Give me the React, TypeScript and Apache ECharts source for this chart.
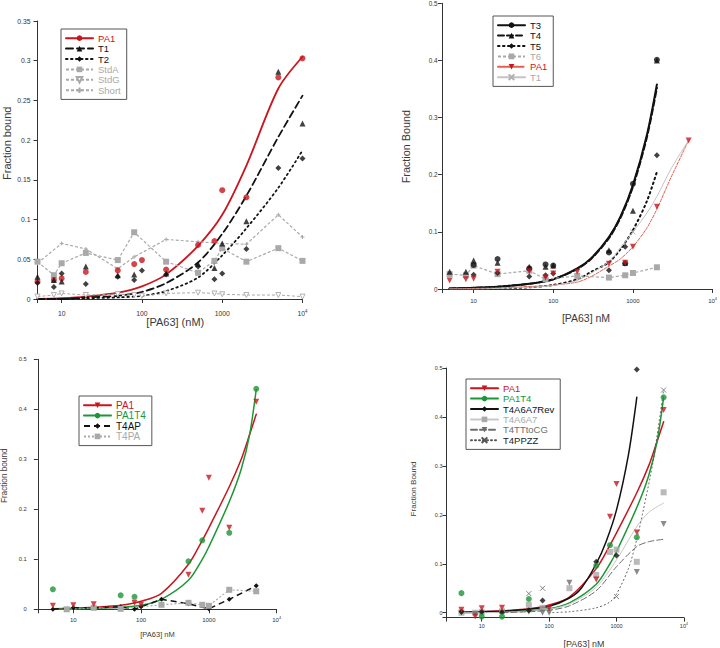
import React, { useEffect, useRef } from "react";
import * as echarts from "echarts";

type V = number | null;

// ---------- Panel 1 (top-left) ----------
const p1Conc = [5, 8, 10, 20, 50, 80, 100, 200, 500, 800, 1000, 2000, 5000, 10000];
const p1PA1: V[] = [0.022, 0.024, 0.026, 0.034, 0.036, 0.044, 0.049, 0.037, 0.068, 0.073, 0.137, 0.128, 0.279, 0.303];
const p1T1: V[] = [0.028, 0.024, 0.022, 0.041, 0.03, 0.031, null, 0.032, 0.044, 0.039, 0.07, 0.098, 0.286, 0.221];
const p1T2: V[] = [0.02, 0.015, 0.032, 0.019, 0.028, 0.024, 0.036, 0.031, 0.041, 0.025, 0.032, 0.063, 0.165, 0.177];
const p1StdA: V[] = [0.047, 0.03, 0.045, 0.058, 0.049, 0.084, null, 0.047, 0.033, 0.048, 0.064, 0.047, 0.064, 0.048];
const p1StdG: V[] = [0.003, 0.005, 0.007, 0.005, 0.006, 0.005, 0.004, 0.007, 0.008, 0.007, 0.006, 0.005, 0.005, 0.003];
const p1Short: V[] = [0.045, null, 0.07, 0.063, 0.038, 0.053, null, 0.075, 0.072, null, 0.07, 0.069, 0.106, 0.078];

const p1FitConc = [5, 10, 20, 50, 100, 200, 500, 1000, 2000, 5000, 10000];
const p1FitPA1: V[] = [0.0, 0.001, 0.003, 0.008, 0.016, 0.031, 0.067, 0.106, 0.168, 0.265, 0.305];
const p1FitT1: V[] = [0.0, 0.0, 0.002, 0.004, 0.009, 0.02, 0.046, 0.082, 0.13, 0.204, 0.256];
const p1FitT2: V[] = [0.0, 0.0, 0.001, 0.002, 0.004, 0.01, 0.027, 0.055, 0.089, 0.14, 0.187];

// ---------- Panel 2 (top-right) ----------
const p2Conc = [5, 8, 10, 20, 50, 80, 100, 200, 500, 800, 1000, 2000, 5000];
const p2T3: V[] = [null, null, 0.042, 0.0525, 0.036, 0.043, 0.041, null, 0.064, 0.045, 0.184, 0.401, null];
const p2T4: V[] = [0.03, 0.03, 0.05, 0.046, 0.039, 0.039, 0.041, null, 0.068, 0.046, 0.137, 0.4, null];
const p2T5: V[] = [null, null, 0.025, 0.028, 0.022, 0.024, 0.027, null, 0.033, 0.074, null, 0.234, null];
const p2T6: V[] = [0.026, 0.024, 0.041, 0.026, 0.032, 0.017, null, 0.023, 0.02, 0.024, 0.028, 0.038, null];
const p2PA1: V[] = [0.015, 0.017, 0.018, 0.03, 0.031, 0.02, 0.027, 0.03, 0.044, 0.046, 0.074, 0.144, 0.26];
const p2T1: V[] = [null, null, null, null, null, null, null, null, null, null, 0.1, null, null];

const p2FitConc = [5, 10, 20, 50, 100, 200, 300, 500, 700, 1000, 1500, 2000];
const p2FitT3: V[] = [0.001, 0.002, 0.004, 0.009, 0.017, 0.036, 0.054, 0.091, 0.127, 0.182, 0.27, 0.358];
const p2FitT4: V[] = [0.001, 0.002, 0.004, 0.009, 0.017, 0.035, 0.053, 0.089, 0.125, 0.179, 0.266, 0.352];
const p2FitT5: V[] = [0.0, 0.0, 0.001, 0.003, 0.007, 0.017, 0.03, 0.047, 0.07, 0.103, 0.154, 0.205];
const p2FitConcB = [5, 10, 20, 50, 100, 200, 300, 500, 700, 1000, 1500, 2000, 3000, 5000];
const p2FitPA1: V[] = [0.0, 0.001, 0.002, 0.004, 0.007, 0.012, 0.022, 0.04, 0.053, 0.074, 0.107, 0.14, 0.195, 0.26];
const p2FitT1: V[] = [0.0, 0.0, 0.001, 0.003, 0.006, 0.015, 0.028, 0.048, 0.072, 0.1, 0.133, 0.162, 0.21, 0.26];

// ---------- Panel 3 (bottom-left) ----------
const p3Conc = [5, 8, 10, 20, 50, 80, 100, 200, 500, 800, 1000, 2000, 5000];
const p3PA1: V[] = [0.007, null, 0.008, 0.01, null, 0.013, 0.009, null, 0.069, 0.197, 0.263, 0.163, 0.415];
const p3PA1T4: V[] = [0.04, null, null, null, 0.028, 0.025, null, null, 0.096, 0.138, null, 0.153, 0.441];
const p3T4AP: V[] = [0.0, null, 0.003, 0.003, 0.005, 0.0, 0.005, 0.02, 0.011, null, 0.001, 0.02, 0.047];
const p3T4PA: V[] = [null, 0.0, null, 0.003, 0.001, null, null, 0.009, 0.013, 0.009, 0.007, 0.039, 0.036];

// shared fits for PA1 / PA1T4 (panels 3 and 4)
const fitConcPA = [5, 10, 20, 50, 100, 200, 500, 800, 1000, 2000, 3000, 4000, 5000];
const fitPA1: V[] = [0.001, 0.002, 0.004, 0.008, 0.016, 0.032, 0.09, 0.138, 0.163, 0.245, 0.3, 0.35, 0.39];
const fitPA1T4: V[] = [0.0, 0.001, 0.002, 0.004, 0.008, 0.02, 0.058, 0.1, 0.125, 0.215, 0.28, 0.35, 0.44];

// ---------- Panel 4 (bottom-right) ----------
const p4Conc = [5, 8, 10, 20, 50, 80, 100, 200, 500, 800, 1000, 2000, 5000];
const p4PA1: V[] = [0.006, -0.008, 0.009, 0.01, null, null, 0.009, null, 0.068, 0.196, 0.263, 0.164, 0.414];
const p4PA1T4: V[] = [0.04, null, -0.008, -0.008, 0.028, null, null, null, 0.096, 0.138, null, 0.154, 0.44];
const p4Rev: V[] = [0.002, null, 0.002, 0.001, 0.005, 0.025, null, null, 0.104, null, 0.117, 0.497, null];
const p4A6A7: V[] = [0.0, 0.0, 0.001, 0.003, 0.016, 0.01, null, 0.05, 0.077, 0.124, 0.129, 0.104, 0.246];
const p4TT: V[] = [0.0, -0.003, -0.002, 0.0, 0.002, 0.0, 0.0, 0.061, null, null, null, 0.083, 0.181];
const p4PPZZ: V[] = [null, null, null, null, 0.039, 0.05, null, null, null, null, 0.033, null, 0.455];

const fitRevConc = [5, 10, 20, 50, 100, 200, 300, 500, 700, 1000, 1500, 2000];
const fitRev: V[] = [0.001, 0.002, 0.003, 0.007, 0.013, 0.03, 0.05, 0.1, 0.145, 0.21, 0.322, 0.44];
const fitA6A7Conc = [5, 10, 20, 50, 100, 200, 500, 1000, 2000, 3000, 5000];
const fitA6A7: V[] = [0.0, 0.0, 0.001, 0.003, 0.007, 0.018, 0.052, 0.108, 0.176, 0.205, 0.224];
const fitTTConc = [20, 50, 100, 200, 500, 1000, 2000, 3000, 5000];
const fitTT: V[] = [0.0, 0.002, 0.005, 0.014, 0.045, 0.094, 0.135, 0.145, 0.15];
const fitPPZZConc = [100, 200, 500, 800, 1000, 1500, 2000, 2500, 3500, 5000];
const fitPPZZ: V[] = [0.0, 0.002, 0.01, 0.022, 0.038, 0.09, 0.15, 0.21, 0.31, 0.455];

// ---------- styling ----------
const FONT = "'Liberation Sans', Arial, Helvetica, sans-serif";
const RED = "#c9151e";
const GREEN = "#1d9636";
const GRAY = "#a9a9a9";
const BLACK = "#111111";
const DGRAY = "#6e6e6e";
const AX = "#333333";
const XPATH = "path://M0,0L10,10M10,0L0,10";
const PLUS = "path://M5,0L5,10M0,5L10,5";

const pairs = (xs: number[], ys: V[]) =>
  xs.map((x, i) => [x, ys[i]]).filter((p) => p[1] !== null && p[1] !== undefined);

function fitLine(name: string, gi: number, xs: number[], ys: V[], color: string, width: number, dash: any, symbol: string, rotate = 0, item?: any) {
  return {
    name, type: "line", xAxisIndex: gi, yAxisIndex: gi, data: pairs(xs, ys),
    smooth: 0.3, showSymbol: false, symbol, symbolRotate: rotate,
    lineStyle: { color, width, type: dash, cap: "round" },
    itemStyle: item || { color }, z: 2, silent: true,
  };
}
function dots(name: string, gi: number, xs: number[], ys: V[], color: string, symbol: string, size: number, rotate = 0, item?: any) {
  return {
    name, type: "scatter", xAxisIndex: gi, yAxisIndex: gi, data: pairs(xs, ys),
    symbol, symbolSize: size, symbolRotate: rotate, itemStyle: item || { color }, z: 3, silent: true,
  };
}
function conn(name: string, gi: number, xs: number[], ys: V[], color: string, width: number, dash: any, symbol: string, size: number, rotate = 0, item?: any) {
  return {
    name, type: "line", xAxisIndex: gi, yAxisIndex: gi, data: pairs(xs, ys),
    smooth: false, showSymbol: true, symbol, symbolSize: size, symbolRotate: rotate,
    lineStyle: { color, width, type: dash },
    itemStyle: item || { color }, z: 3, silent: true,
  };
}

function logLabel(v: number) {
  const l = Math.log10(v);
  const e = Math.round(l);
  if (Math.abs(l - e) > 1e-6 || e < 1) return "";
  if (e === 4) return "{b|10}{s|4}";
  return "{b|" + String(Math.round(v)) + "}";
}

function xAx(gi: number, min: number, max: number, fs: number, margin: number) {
  return {
    type: "log", logBase: 10, gridIndex: gi, min, max,
    axisLine: { show: true, onZero: false, lineStyle: { color: AX, width: 1 } },
    axisTick: { show: true, length: 4, lineStyle: { color: AX, width: 1 } },
    minorTick: { show: false }, splitLine: { show: false },
    axisLabel: {
      margin, color: "#333", formatter: logLabel,
      rich: {
        b: { fontSize: fs, fontFamily: FONT, color: "#333", lineHeight: fs + 3 },
        s: { fontSize: fs * 0.65, fontFamily: FONT, color: "#333", verticalAlign: "top", lineHeight: fs * 0.7 },
      },
    },
  };
}

function yAx(gi: number, min: number, max: number, interval: number | undefined, fs: number, margin: number) {
  const a: any = {
    type: "value", gridIndex: gi, min, max,
    axisLine: { show: true, onZero: false, lineStyle: { color: AX, width: 1 } },
    axisTick: { show: true, length: 4, lineStyle: { color: AX, width: 1 } },
    splitLine: { show: false },
    axisLabel: {
      fontSize: fs, fontFamily: FONT, color: "#333", margin,
      formatter: (v: number) => (v < -1e-9 ? "" : String(+v.toFixed(3))),
    },
  };
  if (interval !== undefined) a.interval = interval;
  return a;
}

function legend(left: number, top: number, fs: number, items: [string, string][]) {
  return {
    orient: "vertical", left, top, itemWidth: 27, itemHeight: 7, itemGap: 0,
    padding: [4, 6, 4, 4], borderColor: "#555", borderWidth: 1, backgroundColor: "#fff",
    selectedMode: false, z: 10,
    textStyle: { fontSize: fs, fontFamily: FONT, lineHeight: 10.4 },
    formatter: (n: string) => n.slice(2),
    data: items.map(([name, color]) => ({ name, textStyle: { color } })),
  };
}

function title(text: string, x: number, y: number, fs: number, rot = false) {
  return {
    type: "text", x, y, rotation: rot ? Math.PI / 2 : 0,
    style: { text, fontSize: fs, fontFamily: FONT, fill: "#3a3a3a", align: "center", verticalAlign: "middle" },
  };
}

export default function App() {
  const ref = useRef<HTMLDivElement>(null);
  useEffect(() => {
    document.body.style.margin = "0";
    if (!ref.current) return;
    const chart = echarts.init(ref.current, undefined, { renderer: "svg" });
    const hollowTri = { color: "#ffffff", borderColor: GRAY, borderWidth: 0.9 };
    const plusSt = { color: "transparent", borderColor: GRAY, borderWidth: 1 };
    const xSt = (c: string) => ({ color: "transparent", borderColor: c, borderWidth: 1 });

    const series: any[] = [
      // panel 1
      fitLine("a_PA1", 0, p1FitConc, p1FitPA1, RED, 1.8, "solid", "circle"),
      fitLine("a_T1", 0, p1FitConc, p1FitT1, BLACK, 1.8, [7, 4], "triangle"),
      fitLine("a_T2", 0, p1FitConc, p1FitT2, BLACK, 1.8, [1.5, 3.5], "diamond"),
      conn("a_StdA", 0, p1Conc, p1StdA, GRAY, 1.2, [3, 2], "rect", 6),
      conn("a_StdG", 0, p1Conc, p1StdG, GRAY, 1, [3, 2], "triangle", 5, 180, hollowTri),
      conn("a_Short", 0, p1Conc, p1Short, GRAY, 1.2, [3, 2], PLUS, 4, 0, plusSt),
      dots("a_PA1", 0, p1Conc, p1PA1, RED, "circle", 6),
      dots("a_T1", 0, p1Conc, p1T1, BLACK, "triangle", 6),
      dots("a_T2", 0, p1Conc, p1T2, BLACK, "diamond", 6),
      // panel 2
      fitLine("b_T3", 1, p2FitConc, p2FitT3, BLACK, 2, "solid", "circle"),
      fitLine("b_T4", 1, p2FitConc, p2FitT4, BLACK, 2, [6, 3], "triangle"),
      fitLine("b_T5", 1, p2FitConc, p2FitT5, BLACK, 2, [1.5, 3.5], "diamond"),
      conn("b_T6", 1, p2Conc, p2T6, GRAY, 1.2, [3, 2], "rect", 6),
      fitLine("b_PA1", 1, p2FitConcB, p2FitPA1, "#e2604f", 1, [3, 1.5], "triangle", 180, { color: RED }),
      fitLine("b_T1", 1, p2FitConcB, p2FitT1, "#c4c4c4", 1, "solid", XPATH, 0, xSt("#b0b0b0")),
      dots("b_T3", 1, p2Conc, p2T3, BLACK, "circle", 6),
      dots("b_T4", 1, p2Conc, p2T4, BLACK, "triangle", 6),
      dots("b_T5", 1, p2Conc, p2T5, BLACK, "diamond", 6),
      dots("b_PA1", 1, p2Conc, p2PA1, RED, "triangle", 6, 180),
      dots("b_T1", 1, p2Conc, p2T1, "#999", XPATH, 5, 0, xSt("#999")),
      // panel 3
      fitLine("c_PA1", 2, fitConcPA, fitPA1, RED, 1.5, "solid", "triangle", 180),
      fitLine("c_PA1T4", 2, fitConcPA, fitPA1T4, GREEN, 1.5, "solid", "circle"),
      conn("c_T4AP", 2, p3Conc, p3T4AP, BLACK, 1.5, [6, 4], "diamond", 5),
      conn("c_T4PA", 2, p3Conc, p3T4PA, GRAY, 1.2, [2, 2], "rect", 6),
      dots("c_PA1", 2, p3Conc, p3PA1, RED, "triangle", 6, 180),
      dots("c_PA1T4", 2, p3Conc, p3PA1T4, GREEN, "circle", 6),
      // panel 4
      fitLine("d_PA1", 3, fitConcPA, fitPA1, RED, 1.5, "solid", "triangle", 180),
      fitLine("d_PA1T4", 3, fitConcPA, fitPA1T4, GREEN, 1.5, "solid", "circle"),
      fitLine("d_T4A6A7Rev", 3, fitRevConc, fitRev, BLACK, 1.5, "solid", "diamond"),
      fitLine("d_T4A6A7", 3, fitA6A7Conc, fitA6A7, "#c8c8c8", 1, "solid", "rect", 0, { color: GRAY }),
      fitLine("d_T4TTtoCG", 3, fitTTConc, fitTT, DGRAY, 1, [6, 3], "triangle", 180, { color: DGRAY }),
      fitLine("d_T4PPZZ", 3, fitPPZZConc, fitPPZZ, "#555", 1, [1, 3], XPATH, 0, xSt("#555")),
      dots("d_T4A6A7", 3, p4Conc, p4A6A7, GRAY, "rect", 6),
      dots("d_T4TTtoCG", 3, p4Conc, p4TT, DGRAY, "triangle", 6, 180),
      dots("d_T4PPZZ", 3, p4Conc, p4PPZZ, "#666", XPATH, 5, 0, xSt("#666")),
      dots("d_T4A6A7Rev", 3, p4Conc, p4Rev, BLACK, "diamond", 6),
      dots("d_PA1", 3, p4Conc, p4PA1, RED, "triangle", 6, 180),
      dots("d_PA1T4", 3, p4Conc, p4PA1T4, GREEN, "circle", 6),
    ];

    chart.setOption({
      animation: false,
      backgroundColor: "#ffffff",
      grid: [
        { left: 37.5, top: 21, width: 265, height: 278 },
        { left: 441.9, top: 3.3, width: 271.5, height: 285.7 },
        { left: 37.85, top: 359.3, width: 238.8, height: 250 },
        { left: 446.5, top: 368, width: 237.4, height: 249.6 },
      ],
      xAxis: [
        xAx(0, 5, 10000, 6.8, 10),
        xAx(1, 4, 10000, 6, 7.5),
        xAx(2, 3, 10000, 6, 6),
        xAx(3, 3, 10000, 5.5, 4),
      ],
      yAxis: [
        yAx(0, 0, 0.35, 0.05, 6.8, 7),
        yAx(1, 0, 0.5, 0.1, 6.3, 4.5),
        yAx(2, 0, 0.5, 0.1, 5.8, 11),
        yAx(3, -0.01, 0.5, undefined, 5.5, 4),
      ],
      legend: [
        legend(61, 29, 9.5, [["a_PA1", RED], ["a_T1", BLACK], ["a_T2", BLACK], ["a_StdA", GRAY], ["a_StdG", GRAY], ["a_Short", GRAY]]),
        legend(493, 16, 9.5, [["b_T3", BLACK], ["b_T4", BLACK], ["b_T5", BLACK], ["b_T6", GRAY], ["b_PA1", RED], ["b_T1", GRAY]]),
        legend(79, 396, 10, [["c_PA1", RED], ["c_PA1T4", GREEN], ["c_T4AP", BLACK], ["c_T4PA", GRAY]]),
        legend(466, 379, 9.5, [["d_PA1", RED], ["d_PA1T4", GREEN], ["d_T4A6A7Rev", BLACK], ["d_T4A6A7", GRAY], ["d_T4TTtoCG", DGRAY], ["d_T4PPZZ", "#222"]]),
      ],
      graphic: [
        title("[PA63] (nM)", 175.3, 321.7, 11),
        title("Fraction bound", 6.7, 143.3, 11, true),
        title("[PA63] nM", 586, 318.3, 10.5),
        title("Fraction Bound", 406, 146.7, 10.8, true),
        title("[PA63] nM", 157.5, 634, 7.5),
        title("Fraction bound", 4.5, 475.8, 8.2, true),
        title("[PA63] nM", 584, 644, 8.9),
        title("Fraction Bound", 413.3, 489, 8.1, true),
      ],
      series,
    });
    return () => chart.dispose();
  }, []);
  return <div ref={ref} style={{ width: 720, height: 648 }} />;
}
